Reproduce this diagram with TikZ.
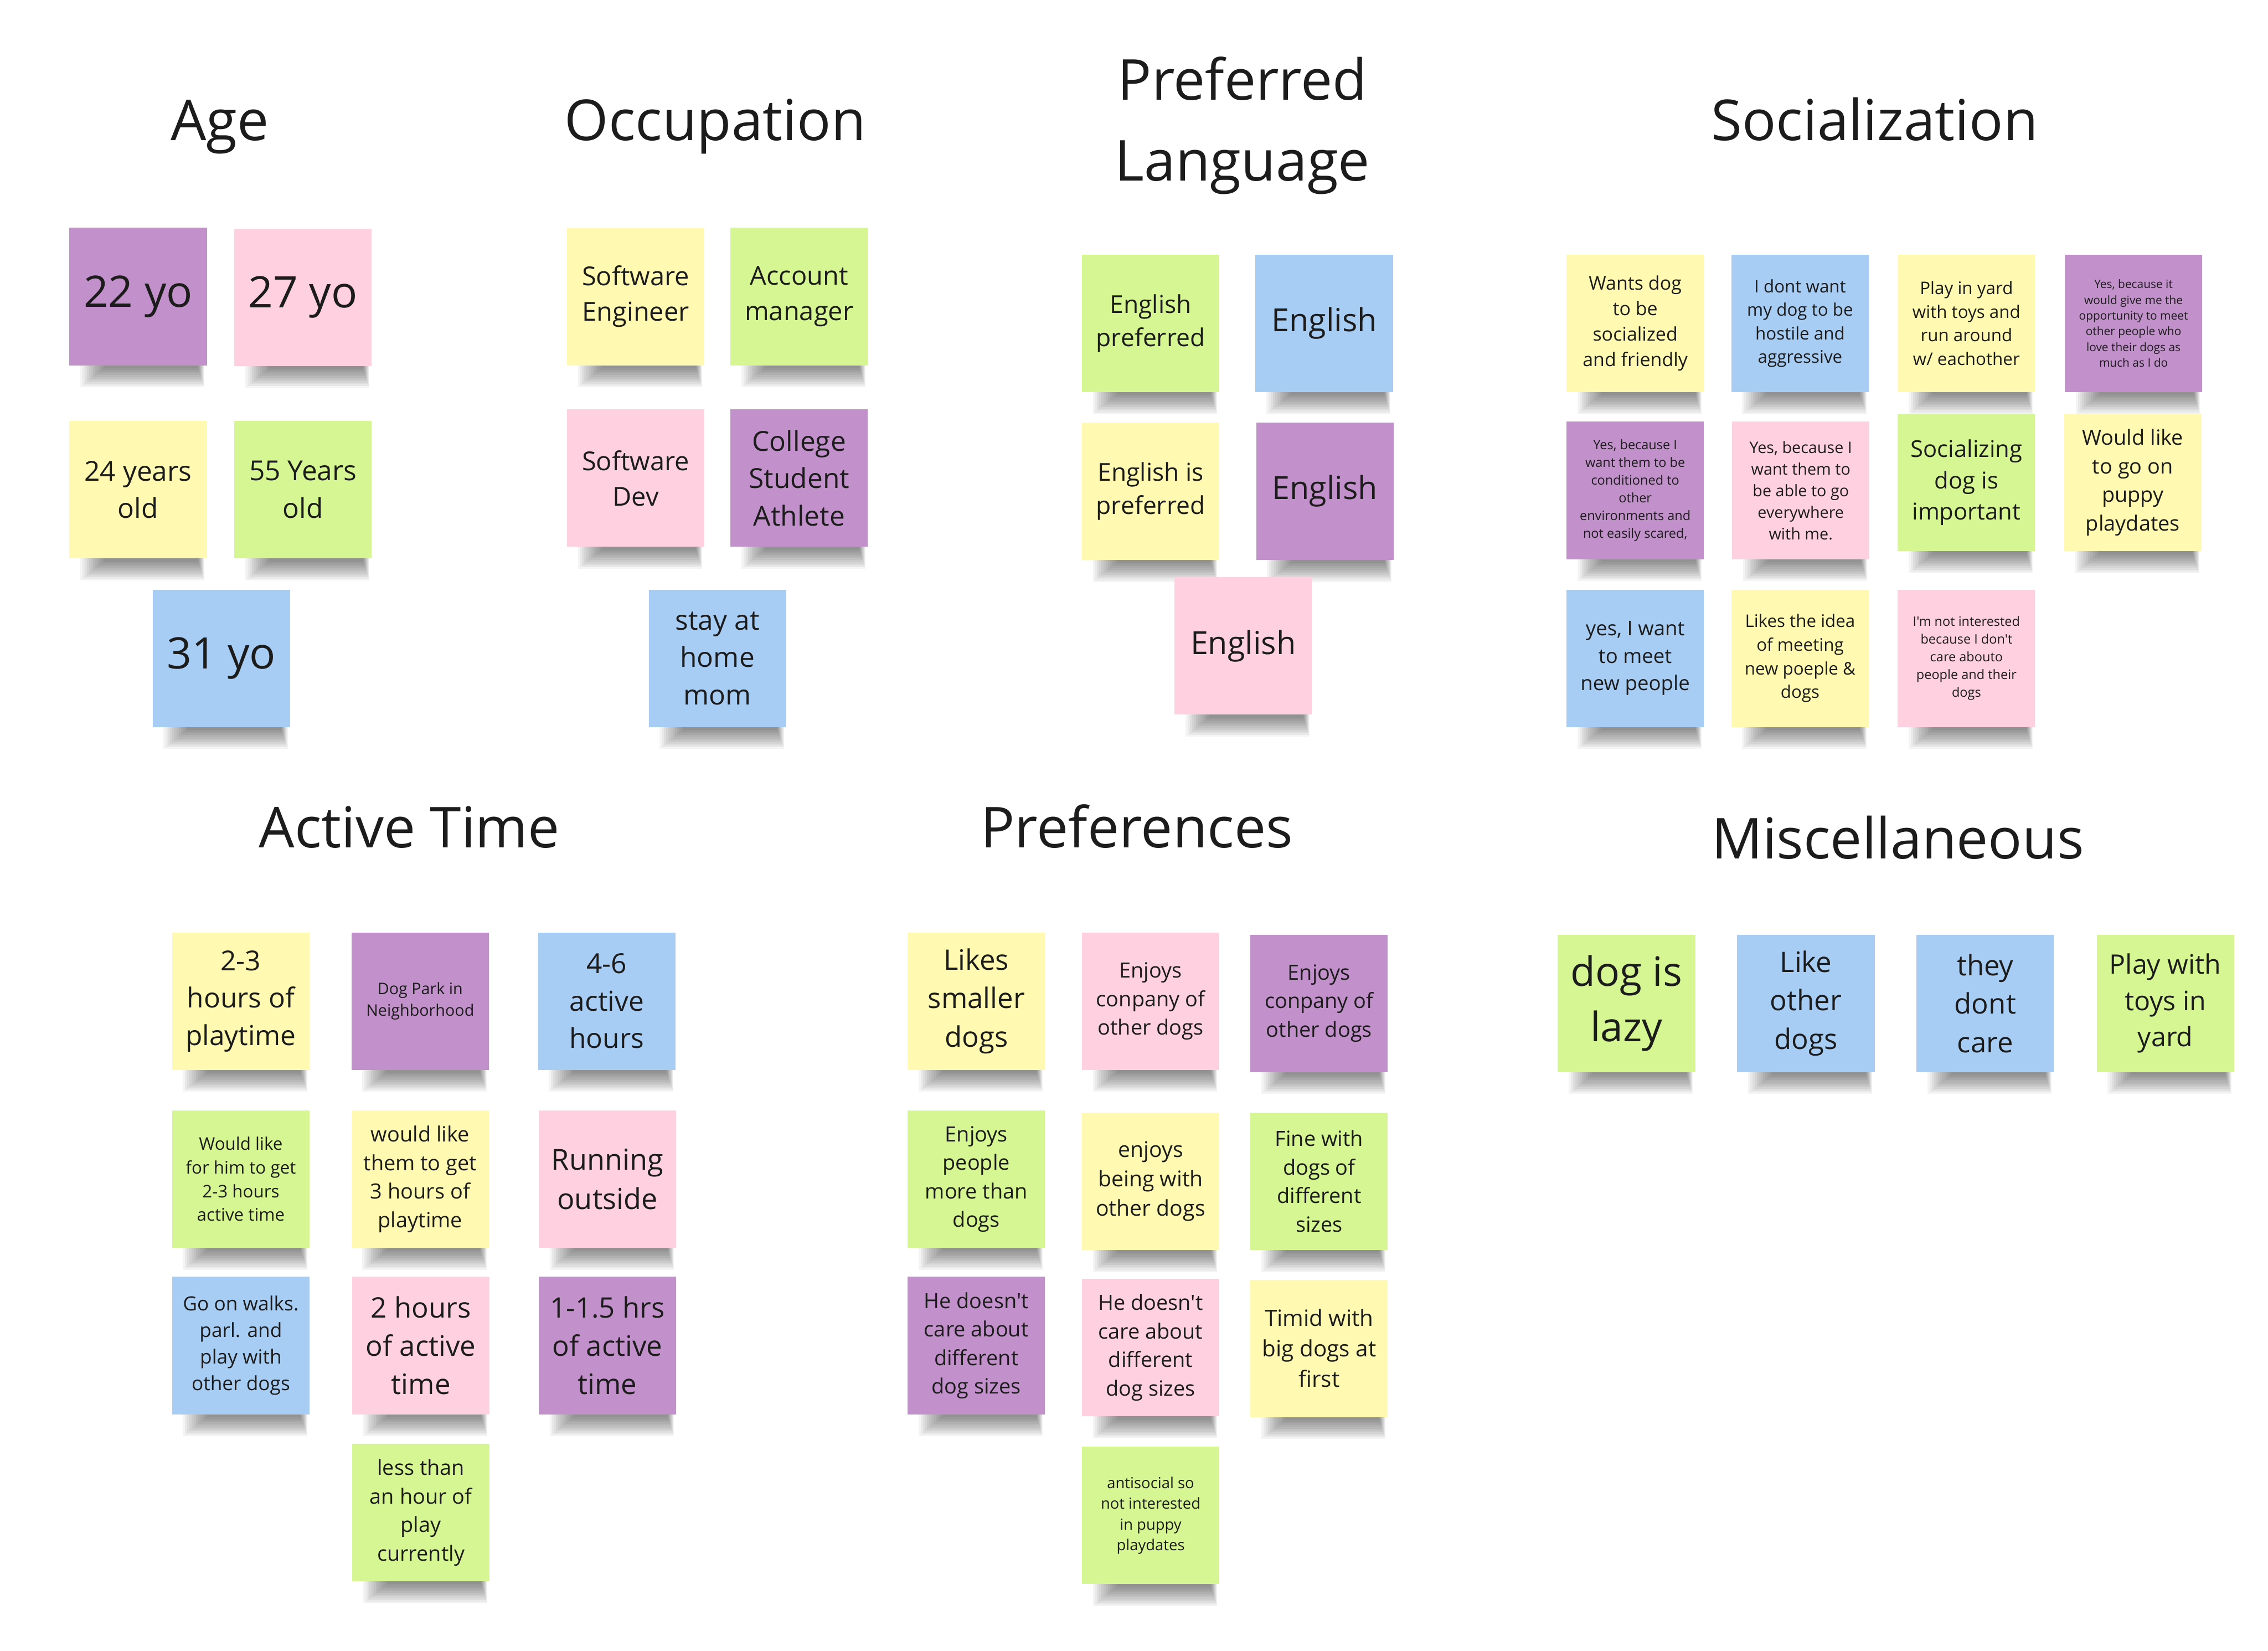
\documentclass[tikz,border=0pt]{standalone}
\usepackage{fontspec}
\setmainfont{Open Sans}[Ligatures=TeXOff]
\definecolor{cyel}{HTML}{FFF9B1}
\definecolor{cgrn}{HTML}{D5F692}
\definecolor{cblu}{HTML}{A8CDF4}
\definecolor{cpnk}{HTML}{FED0E0}
\definecolor{cpur}{HTML}{C290CA}
\definecolor{ink}{HTML}{1C1C1C}
\newcommand\fs[1]{\fontsize{#1}{\fpeval{#1*1.36}}\selectfont}
\tikzset{
  note/.style={rectangle, minimum width=95pt, minimum height=95pt, inner sep=0pt, align=center, text=ink},
  heading/.style={font=\fs{39}, text=ink, anchor=base},
  shadowband/.style={black, opacity=0.045},
}
\newcommand\sticky[6]{%
  \foreach \i in {0,...,11}{\fill[shadowband] (#2-47.5+24-1.5*\i, #3+46.5) rectangle (#2+47.5-6+0.4*\i, #3+49.5+1.2*\i);}
  \node[note, fill=#4, font=\fs{#5}] (#1) at (#2,#3) {#6};
}
\begin{document}
\begin{tikzpicture}[x=1pt, y=-1pt]
\fill[white] (0,0) rectangle (1568,1141);
\useasboundingbox (0,0) rectangle (1568,1141);

% titles
\node[heading] (tage) at (152,97) {Age};
\node[heading] (tocc) at (494.5,97) {Occupation};
\node[heading] (tlang1) at (859,69) {Preferred};
\node[heading] (tlang2) at (859,125) {Language};
\node[heading] (tsoc) at (1296,97) {Socialization};
\node[heading] (tact) at (283,586) {Active Time};
\node[heading] (tpref) at (786,586) {Preferences};
\node[heading] (tmisc) at (1312,593.5) {Miscellaneous};

% Age
\sticky{a22}{95.5}{205}{cpur}{30}{22 yo}
\sticky{a27}{209.5}{205.5}{cpnk}{30}{27 yo}
\sticky{a24}{95.5}{338.5}{cyel}{19}{24 years\\old}
\sticky{a55}{209.5}{338.5}{cgrn}{19}{55 Years\\old}
\sticky{a31}{153}{455}{cblu}{30}{31 yo}

% Occupation
\sticky{swe}{439.5}{205}{cyel}{18}{Software\\Engineer}
\sticky{acct}{552.5}{205}{cgrn}{18}{Account\\manager}
\sticky{swdev}{439.5}{330.5}{cpnk}{18}{Software\\Dev}
\sticky{coll}{552.5}{330.5}{cpur}{19}{College\\Student\\Athlete}
\sticky{stay}{496}{455}{cblu}{19}{stay at\\home\\mom}

% Preferred Language
\sticky{engpref}{795.5}{223.5}{cgrn}{17}{English\\preferred}
\sticky{eng1}{915.5}{223.5}{cblu}{22}{English}
\sticky{engis}{795.5}{339.5}{cyel}{17}{English is\\preferred}
\sticky{eng2}{916}{339.5}{cpur}{22}{English}
\sticky{eng3}{859.5}{446.5}{cpnk}{22}{English}

% Socialization
\sticky{s1}{1130.5}{223.5}{cyel}{13}{Wants dog\\to be\\socialized\\and friendly}
\sticky{s2}{1244.5}{223.5}{cblu}{12}{I dont want\\my dog to be\\hostile and\\aggressive}
\sticky{s3}{1359.5}{223.5}{cyel}{12}{Play in yard\\with toys and\\run around\\w/ eachother}
\sticky{s4}{1475}{223.5}{cpur}{8}{Yes, because it\\would give me the\\opportunity to meet\\other people who\\love their dogs as\\much as I do}
\sticky{s5}{1130.5}{339}{cpur}{9}{Yes, because I\\want them to be\\conditioned to\\other\\environments and\\not easily scared,}
\sticky{s6}{1245}{339}{cpnk}{11}{Yes, because I\\want them to\\be able to go\\everywhere\\with me.}
\sticky{s7}{1359.5}{333.5}{cgrn}{16}{Socializing\\dog is\\important}
\sticky{s8}{1474.5}{333.5}{cyel}{14.5}{Would like\\to go on\\puppy\\playdates}
\sticky{s9}{1130.5}{455}{cblu}{14}{yes, I want\\to meet\\new people}
\sticky{s10}{1244.5}{455}{cyel}{12}{Likes the idea\\of meeting\\new poeple \&\\dogs}
\sticky{s11}{1359.5}{455}{cpnk}{9}{I'm not interested\\because I don't\\care abouto\\people and their\\dogs}

% Active Time
\sticky{t1}{166.5}{692}{cyel}{19}{2-3\\hours of\\playtime}
\sticky{t2}{290.5}{692}{cpur}{11}{Dog Park in\\Neighborhood}
\sticky{t3}{419.5}{692}{cblu}{19}{4-6\\active\\hours}
\sticky{t4}{166.5}{815}{cgrn}{12}{Would like\\for him to get\\2-3 hours\\active time}
\sticky{t5}{290.5}{815}{cyel}{14.5}{would like\\them to get\\3 hours of\\playtime}
\sticky{t6}{420}{815}{cpnk}{20}{Running\\outside}
\sticky{t7}{166.5}{930}{cblu}{13.5}{Go on walks.\\parl. and\\play with\\other dogs}
\sticky{t8}{291}{930}{cpnk}{19.5}{2 hours\\of active\\time}
\sticky{t9}{420}{930}{cpur}{19.5}{1-1.5 hrs\\of active\\time}
\sticky{t10}{291}{1045.5}{cgrn}{14.5}{less than\\an hour of\\play\\currently}

% Preferences
\sticky{p1}{675}{692}{cyel}{19.5}{Likes\\smaller\\dogs}
\sticky{p2}{795.5}{692}{cpnk}{14.5}{Enjoys\\conpany of\\other dogs}
\sticky{p3}{912}{693.5}{cpur}{14.5}{Enjoys\\conpany of\\other dogs}
\sticky{p4}{675}{815}{cgrn}{14.5}{Enjoys\\people\\more than\\dogs}
\sticky{p5}{795.5}{816.5}{cyel}{15}{enjoys\\being with\\other dogs}
\sticky{p6}{912}{816.5}{cgrn}{14.5}{Fine with\\dogs of\\different\\sizes}
\sticky{p7}{675}{930}{cpur}{14.5}{He doesn't\\care about\\different\\dog sizes}
\sticky{p8}{795.5}{931.5}{cpnk}{14.5}{He doesn't\\care about\\different\\dog sizes}
\sticky{p9}{912}{932}{cyel}{15.5}{Timid with\\big dogs at\\first}
\sticky{p10}{795.5}{1047.5}{cgrn}{10.5}{antisocial so\\not interested\\in puppy\\playdates}

% Miscellaneous
\sticky{m1}{1124.5}{693.5}{cgrn}{28}{dog is\\lazy}
\sticky{m2}{1248.5}{693.5}{cblu}{19.5}{Like\\other\\dogs}
\sticky{m3}{1372.5}{693.5}{cblu}{19.5}{they\\dont\\care}
\sticky{m4}{1497}{693.5}{cgrn}{18.5}{Play with\\toys in\\yard}
\end{tikzpicture}
\end{document}
